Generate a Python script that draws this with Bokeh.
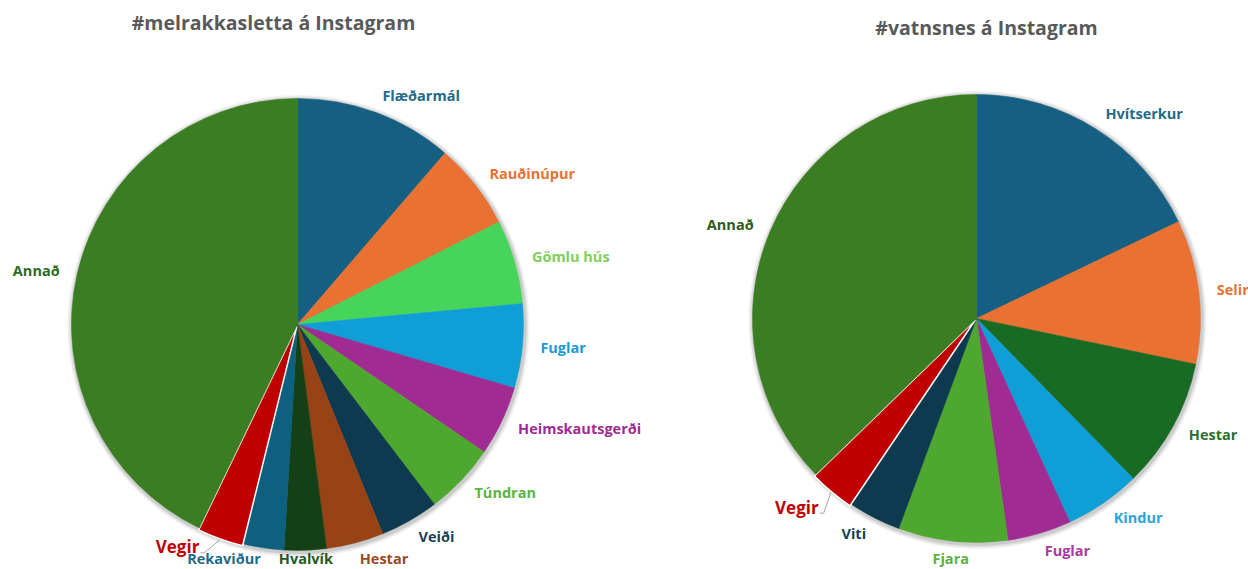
import math
from bokeh.plotting import figure
from bokeh.models import Range1d
from bokeh.core.properties import value
from bokeh.embed import file_html
from bokeh.resources import INLINE

# ---- data ----
mel_title = "#melrakkasletta á Instagram"
mel_labels = ["Flæðarmál", "Rauðinúpur", "Gömlu hús", "Fuglar", "Heimskautsgerði", "Túndran",
              "Veiði", "Hestar", "Hvalvík", "Rekaviður", "Vegir", "Annað"]
mel_values = [11.3, 6.2, 6.0, 6.0, 5.0, 5.1, 4.2, 4.1, 3.0, 2.9, 3.3, 42.8]

vat_title = "#vatnsnes á Instagram"
vat_labels = ["Hvítserkur", "Selir", "Hestar", "Kindur", "Fuglar", "Fjara", "Viti", "Vegir", "Annað"]
vat_values = [17.9, 10.4, 9.4, 5.5, 4.6, 7.9, 3.8, 3.3, 37.3]

# ---- styles ----
mel_colors = ["#156082", "#E97132", "#47D45A", "#0F9ED5", "#A02B93", "#4EA72E",
              "#0E3A50", "#974315", "#143F17", "#0D607F", "#C00000", "#3B7D23"]
mel_lcolors = ["#1F6A8A", "#E97132", "#7FCF5C", "#1A9AD6", "#A02B93", "#59B440",
               "#1A3F57", "#9A4A1E", "#1F5A1F", "#1F6A8A", "#C00000", "#2E6A1F"]
vat_colors = ["#156082", "#E97132", "#196B24", "#0F9ED5", "#A02B93", "#4EA72E",
              "#0E3A50", "#C00000", "#3B7D23"]
vat_lcolors = ["#1F6A8A", "#E97132", "#2A7030", "#2AA3DC", "#A83AA0", "#5AB442",
               "#1A3F57", "#C00000", "#2D5A1E"]

W, H = 1248, 569
FONT = "Open Sans"

p = figure(width=W, height=H, x_range=Range1d(0, W), y_range=Range1d(0, H),
           output_backend="svg", toolbar_location=None, min_border=0)
p.axis.visible = False
p.grid.visible = False
p.outline_line_color = None


def draw_pie(cx, cy, r, labels, values, colors, lcolors, title, tx, ty, hi_nudge):
    total = float(sum(values))
    # soft shadow
    for k, a in [(5, 0.05), (3.5, 0.07), (2, 0.09)]:
        p.circle(x=[cx + 1], y=[cy - 1.5], radius=r + k, fill_color="#000000",
                 fill_alpha=a, line_color=None)
    cum = 0.0
    for lab, v, c, lc in zip(labels, values, colors, lcolors):
        f0 = cum / total
        cum += v
        f1 = cum / total
        s = math.pi / 2 - 2 * math.pi * f0
        e = math.pi / 2 - 2 * math.pi * f1
        th = 2 * math.pi * (f0 + f1) / 2  # clockwise from top
        a = math.pi / 2 - th
        is_hi = lab == "Vegir"
        ox = 2 * math.cos(a) if is_hi else 0
        oy = 2 * math.sin(a) if is_hi else 0
        p.wedge(x=[cx + ox], y=[cy + oy], radius=r, start_angle=s, end_angle=e,
                direction="clock", fill_color=c,
                line_color="white" if is_hi else c,
                line_width=1.5 if is_hi else 0.5)
        if is_hi:
            tl = th + math.radians(hi_nudge[0])
            R = hi_nudge[1]
        else:
            tl = th
            R = r + 18
        al = math.pi / 2 - tl
        lx = cx + R * math.cos(al)
        ly = cy + R * math.sin(al)
        sn = math.sin(tl)
        if sn > 0.2:
            align = "left"
        elif sn < -0.12:
            align = "right"
        else:
            align = "center"
        ly = max(ly, 11)
        size = "17px" if is_hi else "14.5px"
        if is_hi:
            px0 = cx + ox + (r + 1) * math.cos(a)
            py0 = cy + oy + (r + 1) * math.sin(a)
            p.line(x=[px0, lx + 5, lx + 1], y=[py0, ly - 6, ly - 6],
                   line_color="#A6A6A6", line_width=1)
        p.text(x=[lx], y=[ly], text=[lab], text_align=align, text_baseline="middle",
               text_font=value(FONT), text_font_style="bold", text_font_size=size,
               text_color=lc)
    p.text(x=[tx], y=[ty], text=[title], text_align="center", text_baseline="middle",
           text_font=value(FONT), text_font_style="bold", text_font_size="19.5px",
           text_color="#595959")


# image coords -> data: (X, 569-Y)
draw_pie(297, 245, 226, mel_labels, mel_values, mel_colors, mel_lcolors,
         mel_title, 273, 547, (4, 243))
draw_pie(976, 251, 224, vat_labels, vat_values, vat_colors, vat_lcolors,
         vat_title, 986, 542, (0, 246))

open("out.html", "w").write(file_html(p, INLINE))
